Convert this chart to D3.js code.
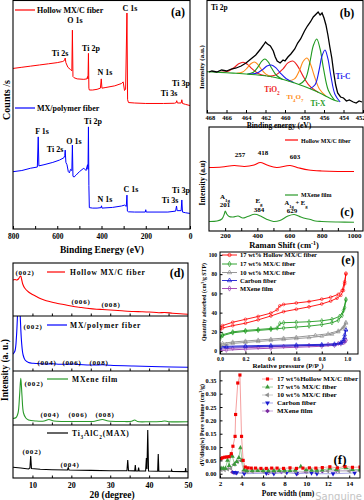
<!DOCTYPE html>
<html><head><meta charset="utf-8">
<script src="https://cdn.jsdelivr.net/npm/d3@7"></script>
<style>body{margin:0;background:#fff}svg{display:block;font-family:'Liberation Serif','Times New Roman',serif;font-weight:bold}</style>
</head><body><script>
// ---------- (a) XPS survey: [binding energy eV, counts a.u.]
const xpsTicks = [800, 600, 400, 200, 0];
const xpsHollow = [[800,70.5],[760,71],[720,71.5],[680,72],[640,72.5],[600,73],[575,73.5],[567,74],[564,75],[561,73],[552,71],[540,70],[534,69.5],[531.5,87],[529,67],[524,66.5],[510,66],[480,65.8],[466,66],[463,67],[461,66],[459,77],[457,62],[455,61.2],[440,61.2],[420,61.5],[405,62],[401,66],[398,62],[380,62.3],[340,63],[310,64],[302,64.7],[296,61],[291,61.5],[285,94.4],[282,57],[278,55.8],[250,55.6],[200,55.4],[120,55.4],[70,55.5],[62,55.8],[60,56.6],[57,55.6],[40,55.6],[37,57],[34,55.4],[20,55],[0,54.5]];
const xpsPolymer = [[800,26],[760,26.5],[720,27.5],[690,28],[686,41],[683,28.5],[660,29],[620,30],[590,31],[570,32],[566,33],[564,35.3],[561,30],[556,29],[550,26],[545,25.5],[540,27],[534,26.5],[531.5,37.5],[529,24],[524,23.7],[515,24.5],[500,26],[480,27.5],[470,26.5],[466,28],[463,29],[461,27],[459,45.3],[457,20],[455,10.5],[440,10.3],[420,10.3],[402,10.5],[400,11.3],[398,10.3],[350,10.6],[310,11.2],[295,11.6],[288,11],[285,15.9],[283,9],[278,8.7],[250,8.6],[202,8.6],[200,9.6],[198,8.6],[100,8.6],[65,9],[61,11.2],[58,9.2],[40,9.2],[37,13.8],[34,8.6],[20,8.3],[0,8]];

// ---------- (b) Ti 2p high resolution: [eV, intensity]
const ti2pTicks = [468,466,464,462,460,458,456,454,452];
const ti2pData = [[467.8,41],[467.5,42],[467,41],[466.5,43],[466,42],[465.5,44],[465,45],[464.5,47],[464,50],[463.5,54],[463,58],[462.5,64],[462.2,68],[462,71],[461.8,69],[461.5,67],[461.2,62],[461,56],[460.8,52],[460.5,50],[460.2,53],[460,52],[459.7,56],[459.4,59],[459,64],[458.7,70],[458.4,74],[458,82],[457.7,87],[457.4,91],[457.1,96],[456.8,99],[456.6,101],[456.4,98],[456.2,100],[456,95],[455.8,88],[455.6,78],[455.4,66],[455.2,55],[455,40],[454.8,28],[454.6,20],[454.3,16],[454,15],[453.7,12],[453.4,13],[453,11],[452.7,10],[452.4,12],[452.1,11]];
const ti2pBackground = [[468,41.3],[467,40.8],[466,40.3],[465,39.7],[464,39],[463,38.2],[462,37.2],[461,35.5],[460,33],[459,30],[458,26.5],[457,22.5],[456,17.8],[455,13],[454.5,11.5]];
const tio2A = [[466.64,40.6],[465.83,41.8],[465.2,45.6],[464.75,49.2],[464.3,50.8],[463.85,48.6],[463.4,44.3],[462.77,39.6],[461.96,37.2]];
const tio2B = [[461.8,36.9],[460.9,38.2],[460.2,44.2],[459.7,50.1],[459.2,52],[458.7,46.9],[458.2,37.9],[457.5,27.4],[456.6,20.7]];
const ti4o7A = [[464.97,39.7],[464.34,40.9],[463.85,45.3],[463.5,49.3],[463.15,51],[462.8,48.7],[462.45,44],[461.96,38.9],[461.33,36.1]];
const ti4o7B = [[459.7,32.1],[459.03,34.1],[458.5,43],[458.13,51.7],[457.75,55],[457.38,48.8],[457,37.3],[456.47,24],[455.8,16.8]];
const tixA = [[463.87,38.9],[463.24,40.7],[462.75,46.3],[462.4,51.7],[462.05,54],[461.7,50.8],[461.35,44.5],[460.86,37.5],[460.23,33.6]];
const tixB = [[458.57,28.5],[457.94,33.4],[457.45,50.7],[457.1,67.2],[456.75,74],[456.4,64],[456.05,44.4],[455.56,22.8],[454.93,12.8]];
const ticA = [[463.74,38.8],[462.93,39.7],[462.3,43.4],[461.85,46.9],[461.4,48],[460.95,45.3],[460.5,40.2],[459.87,34.2],[459.06,30.2]];
const ticB = [[457.46,24.3],[456.92,28.2],[456.5,43],[456.2,57.2],[455.9,63],[455.6,54.3],[455.3,37.4],[454.88,18.8],[454.34,11]];

// ---------- (c) Raman: [shift cm-1, intensity]
const ramanTicks = [200,400,600,800,1000];
const ramanHollow = [[100,63.5],[180,64],[257,65.5],[320,64.5],[380,66],[418,68.5],[460,66],[520,63.5],[603,65.5],[660,63],[720,61],[800,60],[900,59.5],[1000,59.5]];
const ramanMXene = [[100,9.5],[150,10],[180,12],[195,17],[201,20],[210,17],[225,14.5],[250,14],[280,15],[310,13],[340,14.5],[384,16.7],[420,15],[460,11.5],[500,9.5],[540,10.5],[590,15],[629,16.5],[670,14],[700,12.5],[730,11.5],[760,10],[800,9.5],[900,9],[1000,8.7]];

// ---------- (d) XRD: [2theta, intensity]
const xrdTicks = [10,20,30,40,50];
const xrdHollow = [[5,36],[5.5,36.5],[6,36],[6.4,37],[6.7,39],[7.0,40],[7.2,37],[7.5,32],[8,28],[9,24],[10,21.5],[11,19.5],[12,17.5],[13,16],[14.6,14.3],[16,13],[18,11.5],[20.6,9.5],[22,8.8],[24,7.8],[26.5,6.8],[28,6.5],[30,6],[33,5.2],[36,4.5],[38,4.3],[40,4],[42.5,3.3],[44,3.5],[46,2.8],[48,2.2],[50,1.7]];
const xrdPolymer = [[5,17],[5.5,20],[5.9,35],[6.2,60],[6.5,85],[6.8,60],[7.2,29],[7.6,16],[8.1,11],[9,8.5],[10.2,7.7],[12,7.2],[14,7],[15,7.3],[17,6.8],[19,6.7],[20.5,7],[22,6.5],[26,6],[28,6.3],[30,5.8],[36,5],[43,4.3],[50,3.7]];
const xrdMXene = [[5,6.5],[5.8,7.5],[6.3,12],[6.7,30],[7.0,46.7],[7.3,30],[7.7,12],[8.3,7],[9,5],[11,4],[13,4],[14.2,5.5],[15.5,4],[18,3.5],[22,3.5],[26,3.8],[28,5.5],[29.5,4],[33,3.5],[35.5,3.7],[36.3,5],[37,3.5],[40,3.3],[43,3.5],[44,4],[45,3.3],[50,3.2]];
const xrdMAX = [[5,10.7],[7,10],[9,9],[9.35,10],[9.55,22],[9.75,9.5],[12,8.7],[15,8.3],[19,8],[19.2,10.5],[19.4,8],[25,7.6],[30,7.3],[34.3,7.2],[34.5,18],[34.7,7.2],[36.3,7.1],[36.45,13],[36.6,7.1],[37.15,7],[37.3,10.3],[37.45,7],[39.1,7],[39.3,20],[39.45,9],[39.65,48],[39.85,7],[42.2,6.8],[42.35,24],[42.5,6.8],[45.7,6.7],[45.8,8],[45.9,6.6],[49.3,6.4],[49.4,10],[49.5,6.4],[50,6.3]];

// ---------- (e) N2 isotherms: [P/P0, cm3/g STP]
const isoXTicks = [0,0.2,0.4,0.6,0.8,1.0];
const isoYTicks = [0,20,40,60,80,100];
const isoNames = ["17 wt% Hollow MX/C fiber","17 wt% MX/C fiber","10 wt% MX/C fiber","Carbon fiber","MXene film"];
const hollowAds = [[0.0,22],[0.02,24],[0.1,26.5],[0.2,29],[0.3,32.5],[0.4,36.5],[0.5,41],[0.6,43.5],[0.7,46],[0.8,49],[0.87,52],[0.92,55],[0.95,58],[0.97,63],[0.98,70],[0.99,80]];
const hollowDes = [[0.99,81],[0.98,72],[0.96,63],[0.93,59],[0.87,56],[0.8,54],[0.7,51.5],[0.6,50],[0.5,48.5],[0.47,47],[0.45,43],[0.4,39.5],[0.3,36],[0.2,33],[0.1,30],[0.02,26.5],[0.0,25]];
const mxc17Ads = [[0,13],[0.02,16],[0.1,19],[0.2,20.5],[0.3,21.5],[0.4,22.5],[0.5,24],[0.6,25],[0.7,26],[0.8,27.5],[0.88,29.5],[0.93,32],[0.96,37],[0.98,45],[0.99,53]];
const mxc17Des = [[0.99,54],[0.97,42],[0.94,36],[0.88,33],[0.8,31.5],[0.7,30.5],[0.6,30],[0.5,29.5],[0.47,28.5],[0.45,24],[0.4,23.5],[0.3,22.5],[0.2,21.5],[0.1,20],[0.02,17],[0,15]];
const mxc10Ads = [[0,5],[0.05,7],[0.1,8],[0.2,9],[0.3,10],[0.4,11],[0.5,12],[0.6,13],[0.7,14],[0.8,15.5],[0.88,17.5],[0.93,20],[0.96,23],[0.98,26],[0.99,29]];
const mxc10Des = [[0.99,30],[0.97,24.5],[0.93,21],[0.85,18],[0.75,16.5],[0.6,14.5],[0.5,13.5],[0.4,12.5],[0.3,11.5],[0.2,10.5],[0.1,9.5],[0.02,8],[0,7]];
const carbonAds = [[0,3],[0.05,4],[0.2,4.5],[0.4,5],[0.6,5.5],[0.8,6],[0.9,6.5],[0.95,8],[0.97,10],[0.98,14],[0.99,22]];
const carbonDes = [[0.99,22],[0.98,17],[0.97,12],[0.95,9],[0.9,7.5],[0.8,7],[0.6,6.5],[0.4,6],[0.2,5.5],[0.05,5],[0,4.5]];
const mxeneAds = [[0,0.5],[0.05,1],[0.2,2],[0.4,3],[0.6,4],[0.8,5],[0.9,6],[0.95,7.5],[0.98,9.5],[0.99,11]];
const mxeneDes = [[0.99,11.5],[0.97,9],[0.93,8],[0.85,7],[0.7,6],[0.5,5],[0.3,4],[0.1,3],[0,2]];

// ---------- (f) pore size distribution: [nm, cm3/g]
const poreXTicks = [2,4,6,8,10,12,14];
const poreYTicks = [0,0.05,0.10,0.15,0.20,0.25,0.30,0.35];
const poreNames = ["17 wt%Hollow MX/C fiber","17 wt% MX/C fiber","10 wt% MX/C fiber","Carbon fiber","MXene film"];
const poreHollow = [[2.1,.057],[2.25,.06],[2.45,.062],[2.65,.063],[2.85,.064],[3.05,.075],[3.2,.103],[3.4,.14],[3.45,.222],[3.65,.34],[3.85,.37],[4.0,.14],[4.15,.05],[4.35,.025],[4.6,.022],[4.9,.021],[5.3,.021],[5.8,.02],[6.3,.02],[6.8,.021],[7.3,.021],[7.9,.02],[8.5,.022],[9.1,.02],[9.7,.021],[10.3,.022],[10.9,.021],[11.5,.023],[12.2,.026],[12.9,.022],[13.6,.027],[14.3,.024],[15,.025]];
const poreMXC17 = [[2.1,.02],[2.3,.02],[2.5,.02],[2.7,.05],[2.85,.03],[3.0,.07],[3.15,.065],[3.35,.035],[3.55,.045],[3.75,.06],[3.9,.097],[4.05,.05],[4.25,.015],[4.5,.012],[5,.012],[5.5,.012],[6,.012],[6.5,.011],[7,.012],[7.5,.012],[8,.013],[8.5,.012],[9,.014],[9.5,.027],[10,.015],[10.5,.013],[11,.013],[11.5,.014],[12.2,.02],[12.8,.015],[13.7,.022],[14.3,.015],[15,.016]];
const poreMXC10 = [[2.1,.015],[2.4,.015],[2.7,.017],[3.0,.02],[3.3,.035],[3.6,.045],[3.95,.05],[4.2,.01],[4.5,.008],[5,.008],[6,.008],[7,.008],[8,.008],[9,.009],[10,.009],[11,.009],[12,.01],[13,.01],[14,.01],[15,.01]];
const poreCarbon = [[3.3,.005],[3.55,.004],[4.25,0],[6.3,.002],[7,0],[8.2,.005],[9.1,0],[10.5,.003],[11,0],[12.5,0],[14.5,.003]];
const poreMXene = [[3.15,.006],[3.45,.004],[6.5,.003],[7.7,.006],[9.2,.001],[10,.006],[11.5,.009],[12.8,.011],[15,.013]];

// =====================================================================
const svg = d3.select("body").append("svg").attr("width",364).attr("height",500);
const FONT = "'Liberation Serif','Times New Roman',serif";
let clipId = 0;
function clip(x0,y0,x1,y1){
  const id = "c"+(clipId++);
  svg.append("clipPath").attr("id",id).append("rect").attr("x",x0).attr("y",y0).attr("width",x1-x0).attr("height",y1-y0);
  return svg.append("g").attr("clip-path",`url(#${id})`);
}
function frame(x0,y0,x1,y1,w){
  svg.append("rect").attr("x",x0).attr("y",y0).attr("width",x1-x0).attr("height",y1-y0).attr("fill","none").attr("stroke","#000").attr("stroke-width",w||1.1);
}
function rich(g,x,y,str,o){
  o=o||{};
  const t=g.append("text").attr("x",x).attr("y",y).attr("font-size",o.size||8).attr("fill",o.fill||"#000").attr("text-anchor",o.anchor||"start");
  if(o.rotate) t.attr("transform",`rotate(-90,${x},${y})`);
  if(o.ls) t.attr("letter-spacing",o.ls);
  if(o.family) t.attr("font-family",o.family).attr("font-weight",o.weight||"bold");
  str.split(/(_\{[^}]*\}|\^\{[^}]*\})/).forEach(p=>{
    if(!p) return;
    if(p.startsWith("_{")) t.append("tspan").attr("font-size","70%").attr("baseline-shift","sub").text(p.slice(2,-1));
    else if(p.startsWith("^{")) t.append("tspan").attr("font-size","70%").attr("baseline-shift","super").text(p.slice(2,-1));
    else t.append("tspan").text(p);
  });
  return t;
}
function styleAxis(g,size){
  g.attr("font-family",FONT).attr("font-size",size).attr("font-weight","bold");
  g.select(".domain").remove();
  g.selectAll(".tick line").attr("stroke","#000");
}
function hline(g,x0,x1,y,color,w){ g.append("line").attr("x1",x0).attr("x2",x1).attr("y1",y).attr("y2",y).attr("stroke",color).attr("stroke-width",w||1.2); }

// ---------------- (a)
{
  const x = d3.scaleLinear().domain([800,0]).range([13,190]);
  const y = d3.scaleLinear().domain([0,100]).range([232,0]);
  const g = clip(13,0,190,229);
  const line = d3.line().x(d=>x(d[0])).y(d=>y(d[1]));
  g.append("path").datum(xpsHollow).attr("d",line).attr("fill","none").attr("stroke","#f00").attr("stroke-width",1);
  g.append("path").datum(xpsPolymer).attr("d",line).attr("fill","none").attr("stroke","#00f").attr("stroke-width",1);
  const ax = svg.append("g").attr("transform","translate(0,229)").call(d3.axisBottom(x).tickValues([800,700,600,500,400,300,200,100,0]).tickSize(-3).tickPadding(5).tickFormat(d=>xpsTicks.includes(d)?d:""));
  styleAxis(ax,7.5);
  frame(13,0.5,190,229);
  hline(svg,15,35,10,"#f00");
  rich(svg,37,13,"Hollow MX/C fiber");
  const red=[["C 1s",130,11],["O 1s",75,23],["Ti 2s",60,56],["Ti 2p",91,51],["N 1s",105,75],["Ti 3s",169,96],["Ti 3p",181,86]];
  red.forEach(d=>rich(svg,d[1],d[2],d[0],{anchor:"middle"}));
  hline(svg,15,35,108,"#00f");
  rich(svg,37,111,"MX/polymer fiber");
  const blue=[["F 1s",42,134],["Ti 2s",55,152],["O 1s",74,144],["Ti 2p",93,123.5],["N 1s",105,202],["C 1s",131,192],["Ti 3s",170,203],["Ti 3p",181,193]];
  blue.forEach(d=>rich(svg,d[1],d[2],d[0],{anchor:"middle"}));
  rich(svg,178,16,"(a)",{anchor:"middle",size:12});
  rich(svg,10,100,"Counts /s",{anchor:"middle",size:10,rotate:true});
  rich(svg,102,253,"Binding Energy (eV)",{anchor:"middle",size:9.5});
}

// ---------------- (b)
{
  const x = d3.scaleLinear().domain([468,452]).range([207,363]);
  const y = d3.scaleLinear().domain([0,113]).range([113,0]);
  const g = clip(207,0,363,113);
  const line = d3.line().x(d=>x(d[0])).y(d=>y(d[1]));
  const smooth = d3.line().x(d=>x(d[0])).y(d=>y(d[1])).curve(d3.curveCatmullRom);
  const comps=[[tio2A,"#ee1c1c"],[tio2B,"#ee1c1c"],[ti4o7A,"#ff8c1a"],[ti4o7B,"#ff8c1a"],[tixA,"#1f9a1f"],[tixB,"#1f9a1f"],[ticA,"#1a1aee"],[ticB,"#1a1aee"]];
  comps.forEach(c=>g.append("path").datum(c[0]).attr("d",smooth).attr("fill","none").attr("stroke",c[1]).attr("stroke-width",1.1));
  g.append("path").datum(ti2pBackground).attr("d",smooth).attr("fill","none").attr("stroke","#1f9a1f").attr("stroke-width",1.1);
  g.append("path").datum(ti2pData).attr("d",line).attr("fill","none").attr("stroke","#000").attr("stroke-width",1.3);
  const ax = svg.append("g").attr("transform","translate(0,113)").call(d3.axisBottom(x).tickValues(ti2pTicks).tickSize(-3).tickPadding(2));
  styleAxis(ax,6.5);
  ax.selectAll(".tick text").filter(d=>d===452).attr("text-anchor","end").attr("dx",2);
  ax.selectAll(".tick text").filter(d=>d===468).attr("text-anchor","start").attr("dx",-2);
  frame(207,0.5,363,113);
  rich(svg,211,10,"Ti 2p",{size:7.5});
  rich(svg,347,17,"(b)",{anchor:"middle",size:12});
  rich(svg,272,92,"TiO_{2}",{anchor:"middle",size:7.5,fill:"#ee1c1c"});
  rich(svg,295,99,"Ti_{4}O_{7}",{anchor:"middle",size:7,fill:"#ff8c1a"});
  rich(svg,318,106,"Ti-X",{anchor:"middle",size:7.5,fill:"#1f9a1f"});
  rich(svg,343,79,"Ti-C",{anchor:"middle",size:7.5,fill:"#1a1aee"});
  rich(svg,279,127.5,"Binding energy (eV)",{anchor:"middle",size:7.5});
  rich(svg,204,67,"Intensity (a.u.)",{anchor:"middle",size:7,rotate:true});
}

// ---------------- (c)
{
  const x = d3.scaleLinear().domain([100,1000]).range([209,354]);
  const y = d3.scaleLinear().domain([0,104]).range([231,127]);
  const g = clip(209,127,363,231);
  const smooth = d3.line().x(d=>x(d[0])).y(d=>y(d[1])).curve(d3.curveCatmullRom);
  g.append("path").datum(ramanHollow).attr("d",smooth).attr("fill","none").attr("stroke","#f00").attr("stroke-width",1.1);
  g.append("path").datum(ramanMXene).attr("d",smooth).attr("fill","none").attr("stroke","#2a9a2a").attr("stroke-width",1.1);
  const ax = svg.append("g").attr("transform","translate(0,231)").call(d3.axisBottom(x).tickValues([200,300,400,500,600,700,800,900,1000]).tickSize(-3).tickPadding(2.5).tickFormat(d=>ramanTicks.includes(d)?d:""));
  styleAxis(ax,7);
  frame(209,127,363,231);
  hline(svg,285,298,140,"#f00");
  rich(svg,301,142.5,"Hollow MX/C fiber",{size:6});
  hline(svg,285,298,195,"#2a9a2a");
  rich(svg,301,197.3,"MXene film",{size:6});
  [["257",240,156.5],["418",263,154.5],["603",295,158.5],["201",225,206.5],["384",259,212],["629",292,212.5]].forEach(d=>rich(svg,d[1],d[2],d[0],{anchor:"middle",size:7}));
  rich(svg,225,198.5,"A_{1g}",{anchor:"middle",size:7});
  rich(svg,259,203,"E_{g}",{anchor:"middle",size:7});
  rich(svg,296,204.5,"A_{1g} + E_{g}",{anchor:"middle",size:6.5});
  rich(svg,347,216,"(c)",{anchor:"middle",size:12});
  rich(svg,284,247.5,"Raman Shift (cm^{-1})",{anchor:"middle",size:8.5});
  rich(svg,205,183,"Intensity (a.u)",{anchor:"middle",size:7.5,rotate:true});
}

// ---------------- (d)
{
  const x = d3.scaleLinear().domain([5,50]).range([13,188]);
  const subs=[[xrdHollow,"#f00",263,316],[xrdPolymer,"#00f",316,371],[xrdMXene,"#2a9a2a",371,425],[xrdMAX,"#000",425,478]];
  subs.forEach(s=>{
    const y = d3.scaleLinear().domain([0,s[3]-s[2]]).range([s[3],s[2]]);
    const g = clip(13,s[2],188,s[3]);
    const ln = d3.line().x(d=>x(d[0])).y(d=>y(d[1])).curve(s[1]==="#000"?d3.curveLinear:d3.curveCatmullRom);
    g.append("path").datum(s[0]).attr("d",ln).attr("fill","none").attr("stroke",s[1]).attr("stroke-width",1.1);
    const ax = svg.append("g").attr("transform",`translate(0,${s[3]})`).call(d3.axisBottom(x).tickValues([10,15,20,25,30,35,40,45]).tickSize(-2.5).tickFormat(""));
    styleAxis(ax,7);
  });
  const ax = svg.append("g").attr("transform","translate(0,478)").call(d3.axisBottom(x).tickValues(xrdTicks).tickSize(0).tickPadding(4));
  styleAxis(ax,8);
  frame(13,263,188,478);
  [316,371,425].forEach(v=>hline(svg,13,188,v,"#000",1.1));
  const o={anchor:"middle",size:7,ls:0.8};
  rich(svg,25,275,"(002)",o); hline(svg,47,65,272,"#f00"); rich(svg,70,275,"Hollow MX/C fiber",{size:7.5,ls:0.8});
  rich(svg,81,304,"(006)",o); rich(svg,111,307,"(008)",o);
  rich(svg,177,276.5,"(d)",{anchor:"middle",size:12});
  rich(svg,33,329,"(002)",o); hline(svg,47,67,325,"#00f"); rich(svg,70,328,"MX/polymer fiber",{size:7.5,ls:0.8});
  rich(svg,47,365,"(004)",o); rich(svg,72,365,"(006)",o); rich(svg,99,365,"(008)",o);
  rich(svg,34,386,"(002)",o); hline(svg,47,68,379,"#2a9a2a"); rich(svg,72,382,"MXene film",{size:7.5,ls:0.8});
  rich(svg,50,417,"(004)",o); rich(svg,78,417,"(006)",o); rich(svg,105,417,"(008)",o);
  hline(svg,47,68,433,"#000"); rich(svg,72,436,"Ti_{3}AlC_{2}(MAX)",{size:7.5,ls:0.8});
  rich(svg,32,454,"(002)",o); rich(svg,70,467,"(004)",o);
  rich(svg,112,497.5,"2θ (degree)",{anchor:"middle",size:9.5});
  rich(svg,8,370,"Intensity (a. u.)",{anchor:"middle",size:9.5,rotate:true});
}

// ---------------- (e)
{
  const x = d3.scaleLinear().domain([0,1.085]).range([220,358]);
  const y = d3.scaleLinear().domain([-3,103]).range([354,252]);
  const g = clip(220,252,358,354);
  const ln = d3.line().x(d=>x(d[0])).y(d=>y(d[1]));
  const series=[[hollowAds,hollowDes,"#f00",d3.symbolCircle],[mxc17Ads,mxc17Des,"#1e9a1e",d3.symbolDiamond],[mxc10Ads,mxc10Des,"#8c8c8c",d3.symbolTriangle],[carbonAds,carbonDes,"#1a1ad0",d3.symbolTriangle],[mxeneAds,mxeneDes,"#9a3ab0",d3.symbolDiamond]];
  series.slice().reverse().forEach(s=>{
    [s[0],s[1]].forEach(arr=>{
      g.append("path").datum(arr).attr("d",ln).attr("fill","none").attr("stroke",s[2]).attr("stroke-width",0.9);
      g.selectAll(null).data(arr).enter().append("path").attr("d",d3.symbol().type(s[3]).size(6)).attr("transform",d=>`translate(${x(d[0])},${y(d[1])})`).attr("fill","none").attr("stroke",s[2]).attr("stroke-width",0.6);
    });
  });
  const ax = svg.append("g").attr("transform","translate(0,354)").call(d3.axisBottom(x).tickValues(isoXTicks).tickSize(-2.5).tickPadding(3).tickFormat(d3.format(".1f")));
  styleAxis(ax,5.5);
  const ay = svg.append("g").attr("transform","translate(220,0)").call(d3.axisLeft(y).tickValues(isoYTicks).tickSize(-2.5).tickPadding(3));
  styleAxis(ay,5.5);
  frame(220,252,358,354,1);
  const rows=[255,264,272.5,280.5,288.5];
  series.forEach((s,i)=>{
    hline(svg,222,237,rows[i],s[2],0.9);
    svg.append("path").attr("d",d3.symbol().type(s[3]).size(8)).attr("transform",`translate(229.5,${rows[i]})`).attr("fill","none").attr("stroke",s[2]).attr("stroke-width",0.7);
    rich(svg,240,rows[i]+2.3,isoNames[i],{size:6.5});
  });
  rich(svg,348,264,"(e)",{anchor:"middle",size:12});
  rich(svg,288,367.5,"Relative pressure (P/P_{o})",{anchor:"middle",size:7});
  rich(svg,206,302,"Quantity adsorbed (cm^{3}/g STP)",{anchor:"middle",size:5.8,rotate:true});
}

// ---------------- (f)
{
  const x = d3.scaleLinear().domain([2,15]).range([220,360]);
  const y = d3.scaleLinear().domain([-0.016,0.385]).range([478,371]);
  const g = clip(220,371,360,478);
  const ln = d3.line().x(d=>x(d[0])).y(d=>y(d[1]));
  const series=[[poreHollow,"#f20000","#f5a0a0",d3.symbolSquare],[poreMXC17,"#3a9a3a","#9fd09f",d3.symbolTriangle],[poreMXC10,"#909090","#c8c8c8",d3.symbolTriangle],[poreCarbon,"#1a1ad0","#a8a8e8",d3.symbolTriangle],[poreMXene,"#7a2aa0","#c8a8d8",d3.symbolSquare]];
  const rot=[0,0,-90,180,45];
  series.slice().reverse().forEach((s,ri)=>{
    const i=series.length-1-ri;
    g.append("path").datum(s[0]).attr("d",ln).attr("fill","none").attr("stroke",s[2]).attr("stroke-width",1);
    g.selectAll(null).data(s[0]).enter().append("path").attr("d",d3.symbol().type(s[3]).size(10)).attr("transform",d=>`translate(${x(d[0])},${y(d[1])}) rotate(${rot[i]})`).attr("fill",s[1]);
  });
  const ax = svg.append("g").attr("transform","translate(0,478)").call(d3.axisBottom(x).tickValues(poreXTicks).tickSize(-2.5).tickPadding(3.5));
  styleAxis(ax,7);
  const ay = svg.append("g").attr("transform","translate(220,0)").call(d3.axisLeft(y).tickValues(poreYTicks).tickSize(-2.5).tickPadding(3.5).tickFormat(d3.format(".2f")));
  styleAxis(ay,6.3);
  frame(220,371,360,478,1);
  const rows=[379,387,395,403,411];
  series.forEach((s,i)=>{
    hline(svg,262,273,rows[i],s[2],1);
    svg.append("path").attr("d",d3.symbol().type(s[3]).size(10)).attr("transform",`translate(267.5,${rows[i]}) rotate(${rot[i]})`).attr("fill",s[1]);
    rich(svg,277,rows[i]+2.4,poreNames[i],{size:7});
  });
  rich(svg,340,464,"(f)",{anchor:"middle",size:13});
  rich(svg,288,496,"Pore width (nm)",{anchor:"middle",size:7.5});
  rich(svg,204,425,"dV/dlog(w) Pore volume (cm^{3}/g)",{anchor:"middle",size:6,rotate:true});
}
rich(svg,362,499.5,"Sanguine",{anchor:"end",size:10,fill:"#c4c4c4",family:"'DejaVu Sans',sans-serif",weight:"normal"});
</script></body></html>
